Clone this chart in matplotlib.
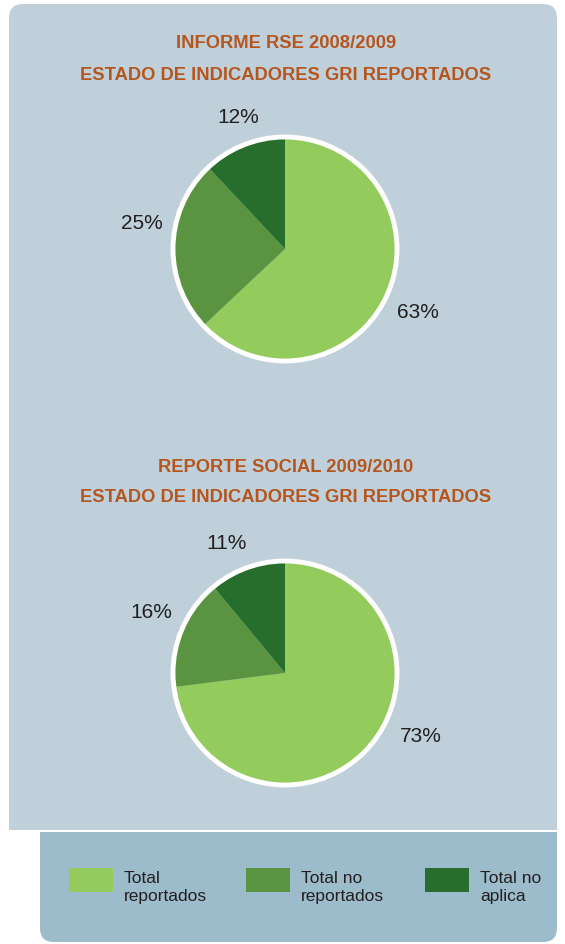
import matplotlib.pyplot as plt
from matplotlib.patches import FancyBboxPatch, Rectangle, Circle

# =============================================================================
#  Data
# =============================================================================
title_2008 = ["INFORME RSE 2008/2009", "ESTADO DE INDICADORES GRI REPORTADOS"]
title_2009 = ["REPORTE SOCIAL 2009/2010", "ESTADO DE INDICADORES GRI REPORTADOS"]
categories = ["Total\nreportados", "Total no\nreportados", "Total no\naplica"]
values_2008 = [63, 25, 12]
values_2009 = [73, 16, 11]
colors = ["#93cb5c", "#5a9440", "#276e2c"]

# label nudges in pixels (dx right, dy down) to follow the original placement
nudge_2008 = [(1, 7), (0, -21), (6, 2)]
nudge_2009 = [(28, -31), (0, -8), (-10, 5)]

W, H = 565, 944
title_color = "#b5561f"
text_color = "#231f20"
panel_color = "#bfd0da"
legend_color = "#9dbccb"
R = 112  # pie radius in pixels

fig = plt.figure(figsize=(W / 100, H / 100), dpi=100)
fig.patch.set_facecolor("white")

# background axes in pixel coordinates
bg = fig.add_axes([0, 0, 1, 1])
bg.set_xlim(0, W)
bg.set_ylim(H, 0)
bg.axis("off")

# top panel: rounded top corners
bg.add_patch(FancyBboxPatch((9, 4), 548, 826, boxstyle="round,pad=0,rounding_size=14",
                            facecolor=panel_color, edgecolor="none"))
bg.add_patch(Rectangle((9, 780), 548, 50, facecolor=panel_color, edgecolor="none"))

# legend panel: rounded bottom corners
bg.add_patch(FancyBboxPatch((40, 832), 517, 110, boxstyle="round,pad=0,rounding_size=14",
                            facecolor=legend_color, edgecolor="none"))
bg.add_patch(Rectangle((40, 832), 517, 40, facecolor=legend_color, edgecolor="none"))

# titles
for lines, y0 in [(title_2008, 44), (title_2009, 467)]:
    for k, line in enumerate(lines):
        bg.text(286, y0 + 31 * k, line, ha="center", va="center", fontsize=13.2,
                fontweight="bold", color=title_color, family="Liberation Sans")


# =============================================================================
#  Pies
# =============================================================================
def draw_pie(cx, cy, values, nudges):
    half = 140
    ax = fig.add_axes([(cx - half) / W, 1 - (cy + half) / H, 2 * half / W, 2 * half / H])
    ax.set_xlim(-half / R, half / R)
    ax.set_ylim(-half / R, half / R)
    ax.set_aspect("equal")
    ax.axis("off")
    wedges, texts = ax.pie(
        values,
        colors=colors,
        startangle=90,
        counterclock=False,
        labels=[f"{v}%" for v in values],
        labeldistance=1.28,
        wedgeprops=dict(linewidth=0),
        textprops=dict(fontsize=15, color=text_color, family="Liberation Sans"),
    )
    for t, (dx, dy) in zip(texts, nudges):
        x, y = t.get_position()
        t.set_position((x + dx / R, y - dy / R))
        t.set_ha("center")
        t.set_va("center")
    ax.add_patch(Circle((0, 0), 1.0, facecolor="none", edgecolor="white", linewidth=3.5))


draw_pie(285, 249, values_2008, nudge_2008)
draw_pie(285, 673, values_2009, nudge_2009)

# =============================================================================
#  Legend
# =============================================================================
for i, (lab, col) in enumerate(zip(categories, colors)):
    x0 = [69, 246, 425][i]
    bg.add_patch(Rectangle((x0, 868), 44, 24, facecolor=col, edgecolor="none"))
    bg.text(x0 + 55, 871, lab, ha="left", va="top", fontsize=12.5, color=text_color,
            family="Liberation Sans", linespacing=1.22)

fig.savefig("out.png", dpi=100)
